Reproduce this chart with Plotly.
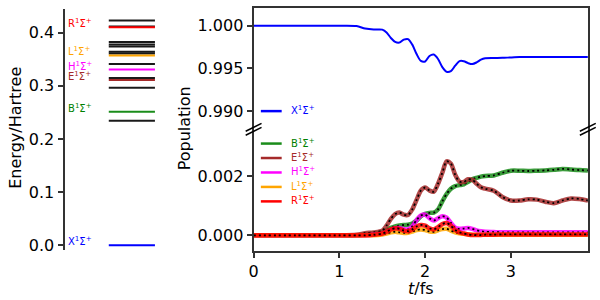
import plotly.graph_objects as go

# ---------------- data ----------------
t = [0.0, 0.5, 1.0, 1.2, 1.3, 1.4, 1.5, 1.55, 1.6, 1.65, 1.7, 1.75, 1.8, 1.85, 1.9, 1.95,
     2.0, 2.05, 2.1, 2.15, 2.2, 2.25, 2.3, 2.35, 2.4, 2.45, 2.5, 2.55, 2.6, 2.65, 2.7,
     2.8, 2.9, 3.0, 3.1, 3.2, 3.3, 3.4, 3.5, 3.6, 3.7, 3.8, 3.9]

pop_X = [1.0, 1.0, 0.99999, 0.99995, 0.99966, 0.99954, 0.99953, 0.99920, 0.99856, 0.99810,
         0.99802, 0.99836, 0.99843, 0.99778, 0.99668, 0.99587, 0.99581, 0.99645, 0.99662,
         0.99610, 0.99515, 0.99460, 0.99468, 0.99532, 0.99585, 0.99584, 0.99562, 0.99550,
         0.99570, 0.99602, 0.99618, 0.99621, 0.99623, 0.99628, 0.99632, 0.99633, 0.99634,
         0.99634, 0.99634, 0.99634, 0.99634, 0.99634, 0.99634]

pop_B = [0.0, 0.0, 0.0, 0.0, 0.00003, 0.00006, 0.00010, 0.00018, 0.00025, 0.00030, 0.00033,
         0.00035, 0.00036, 0.00040, 0.00050, 0.00065, 0.00073, 0.00076, 0.00077, 0.00088,
         0.00115, 0.00140, 0.00158, 0.00167, 0.00170, 0.00173, 0.00181, 0.00190, 0.00195,
         0.00199, 0.00201, 0.00203, 0.00212, 0.00219, 0.00219, 0.00218, 0.00219, 0.00220,
         0.00222, 0.00225, 0.00223, 0.00221, 0.00220]

pop_E = [0.0, 0.0, 0.0, 0.00002, 0.00007, 0.00010, 0.00016, 0.00033, 0.00056, 0.00072,
         0.00077, 0.00070, 0.00069, 0.00088, 0.00120, 0.00152, 0.00162, 0.00152, 0.00148,
         0.00175, 0.00212, 0.00251, 0.00243, 0.00205, 0.00182, 0.00181, 0.00190, 0.00188,
         0.00175, 0.00163, 0.00158, 0.00151, 0.00130, 0.00118, 0.00118, 0.00122, 0.00121,
         0.00114, 0.00109, 0.00118, 0.00125, 0.00123, 0.00118]

pop_H = [0.0, 0.0, 0.0, 0.0, 0.0, 0.00002, 0.00005, 0.00010, 0.00018, 0.00024, 0.00025,
         0.00021, 0.00020, 0.00030, 0.00052, 0.00067, 0.00070, 0.00058, 0.00050, 0.00058,
         0.00065, 0.00060, 0.00042, 0.00026, 0.00022, 0.00023, 0.00025, 0.00022, 0.00017,
         0.00014, 0.00012, 0.00011, 0.00010, 0.00010, 0.00010, 0.00010, 0.00010, 0.00010,
         0.00010, 0.00010, 0.00010, 0.00010, 0.00010]

pop_L = [0.0, 0.0, 0.0, 0.0, 0.0, 0.0, 0.00003, 0.00006, 0.00010, 0.00012, 0.00010,
         0.00008, 0.00009, 0.00013, 0.00018, 0.00020, 0.00018, 0.00013, 0.00012, 0.00017,
         0.00021, 0.00022, 0.00016, 0.00010, 0.00007, 0.00005, 0.00003, 0.00002, 0.00002,
         0.00002, 0.00002, 0.00002, 0.00002, 0.00002, 0.00002, 0.00002, 0.00002, 0.00002,
         0.00002, 0.00002, 0.00002, 0.00002, 0.00002]

pop_R = [0.0, 0.0, 0.0, 0.0, 0.0, 0.00002, 0.00006, 0.00012, 0.00020, 0.00024, 0.00022,
         0.00016, 0.00014, 0.00020, 0.00030, 0.00035, 0.00033, 0.00024, 0.00020, 0.00028,
         0.00038, 0.00042, 0.00032, 0.00018, 0.00010, 0.00006, 0.00003, 0.00001, 0.00001,
         0.00001, 0.00002, 0.00002, 0.00003, 0.00003, 0.00003, 0.00003, 0.00003, 0.00003,
         0.00003, 0.00003, 0.00003, 0.00003, 0.00003]

# energy levels (Hartree)
levels_other = [0.4233, 0.4117, 0.3826, 0.3778, 0.3741, 0.3641, 0.3611, 0.3413, 0.3148,
                0.2963, 0.2344]
state_names = ["X", "B", "E", "H", "L", "R"]
state_energy = [0.0, 0.2511, 0.3111, 0.3307, 0.3574, 0.4104]
state_color = ["#0000ff", "#1a8c1a", "#a52a2a", "#ff00ff", "#ffa500", "#ff0000"]
text_color = ["#0000ff", "#008000", "#a52a2a", "#ff00ff", "#ffa500", "#ff0000"]

lower_names = ["B", "E", "H", "L", "R"]
lower_pops = [pop_B, pop_E, pop_H, pop_L, pop_R]

x_ticks = [0, 1, 2, 3]

# ---------------- layout helpers ----------------
W, H = 600, 300
def fx(px):
    return px / W
def fy(py):
    return 1 - py / H

def lab(n):
    return n + "<sup>1</sup>Σ<sup>+</sup>"

FONT = "DejaVu Sans"
SP = "#333333"

fig = go.Figure()

# ---------------- left panel: energy levels ----------------
lx0, lx1 = 0.47, 0.96
for e in levels_other:
    fig.add_trace(go.Scatter(x=[lx0, lx1], y=[e, e], mode="lines",
                             line=dict(color="rgba(0,0,0,0.9)", width=2),
                             xaxis="x", yaxis="y", showlegend=False, hoverinfo="skip"))
for n, e, c in zip(state_names, state_energy, state_color):
    fig.add_trace(go.Scatter(x=[lx0, lx1], y=[e, e], mode="lines",
                             line=dict(color=c, width=2),
                             xaxis="x", yaxis="y", showlegend=False, hoverinfo="skip"))

annotations = []
for n, e, c in zip(state_names, state_energy, text_color):
    annotations.append(dict(x=fx(62), xref="paper", y=e, yref="y", text=lab(n),
                            showarrow=False, xanchor="left", yanchor="middle", yshift=4,
                            font=dict(family=FONT, size=10, color=c)))

# ---------------- top right: X population ----------------
fig.add_trace(go.Scatter(x=t, y=pop_X, mode="lines", line=dict(color="#0000ff", width=2,
                         shape="spline", smoothing=0.8),
                         xaxis="x2", yaxis="y2", showlegend=False))

# ---------------- bottom right: other populations ----------------
for n, p in zip(lower_names, lower_pops):
    c = state_color[state_names.index(n)]
    fig.add_trace(go.Scatter(x=t, y=p, mode="lines",
                             line=dict(color=c, width=4.5, shape="spline", smoothing=0.8),
                             opacity=0.85, xaxis="x3", yaxis="y3", showlegend=False))
    fig.add_trace(go.Scatter(x=t, y=p, mode="lines",
                             line=dict(color="black", width=1.8, dash="2px,3px",
                                       shape="spline", smoothing=0.8),
                             xaxis="x3", yaxis="y3", showlegend=False))

# ---------------- manual legends ----------------
shapes = []
def legend_entry(n, ypx):
    i = state_names.index(n)
    shapes.append(dict(type="line", xref="paper", yref="paper",
                       x0=fx(258), x1=fx(279), y0=fy(ypx), y1=fy(ypx),
                       line=dict(color=state_color[i], width=2.5)))
    annotations.append(dict(x=fx(286), xref="paper", y=fy(ypx), yref="paper",
                            text=lab(n), showarrow=False, xanchor="left", yanchor="middle",
                            yshift=1, font=dict(family=FONT, size=10, color=text_color[i])))

legend_entry("X", 113)
for k, n in enumerate(lower_names):
    legend_entry(n, 146 + 14.7 * k)

# ---------------- break marks ----------------
for xs in (250.7, 587.7):
    for yc in (129.5, 133.5):
        shapes.append(dict(type="line", xref="paper", yref="paper",
                           x0=fx(xs - 8), x1=fx(xs + 8), y0=fy(yc + 4), y1=fy(yc - 4),
                           line=dict(color="black", width=1.5)))

# ---------------- axis titles ----------------
annotations += [
    dict(x=fx(11), y=fy(130), xref="paper", yref="paper", text="Energy/Hartree",
         textangle=-90, showarrow=False, xanchor="center", yanchor="middle",
         font=dict(family=FONT, size=16, color="black")),
    dict(x=fx(181), y=fy(130), xref="paper", yref="paper", text="Population",
         textangle=-90, showarrow=False, xanchor="center", yanchor="middle",
         font=dict(family=FONT, size=16, color="black")),
    dict(x=fx(419), y=fy(293), xref="paper", yref="paper", text="<i>t</i>/fs",
         showarrow=False, xanchor="center", yanchor="middle",
         font=dict(family=FONT, size=16, color="black")),
]

axis_common = dict(showgrid=False, zeroline=False, showline=True, linecolor=SP, linewidth=2,
                   ticks="outside", ticklen=5, tickwidth=2, tickcolor=SP,
                   tickfont=dict(family=FONT, size=16, color="black"))

top_lo = 1.0 - (131 - 26) / 8660
top_hi = 1.0 + (26 - 8.3) / 8660
bot_lo = -(255 - 239.3) / 30000
bot_hi = (239.3 - 131.5) / 30000

fig.update_layout(
    width=W, height=H, margin=dict(l=0, r=0, t=0, b=0),
    paper_bgcolor="white", plot_bgcolor="white",
    xaxis=dict(domain=[fx(60), fx(155)], range=[0, 1], visible=False),
    yaxis=dict(domain=[fy(254), fy(8.7)], range=[-0.0087, 0.4456],
               tickvals=[0.0, 0.1, 0.2, 0.3, 0.4], tickformat=".1f", anchor="x",
               **axis_common),
    xaxis2=dict(domain=[fx(250.7), fx(587.7)], range=[0, 3.896], anchor="y2", side="top",
                showgrid=False, zeroline=False, showline=True, linecolor=SP, linewidth=2,
                ticks="", showticklabels=False),
    yaxis2=dict(domain=[fy(131.5), fy(8.3)], range=[top_lo, top_hi], anchor="x2",
                tickvals=[0.990, 0.995, 1.000], tickformat=".3f", mirror=True,
                **axis_common),
    xaxis3=dict(domain=[fx(250.7), fx(587.7)], range=[0, 3.896], anchor="y3",
                tickvals=x_ticks, **axis_common),
    yaxis3=dict(domain=[fy(255), fy(131.5)], range=[bot_lo, bot_hi], anchor="x3",
                tickvals=[0.0, 0.002], tickformat=".3f", mirror=True, **axis_common),
    shapes=shapes, annotations=annotations,
)

post = (
    "document.documentElement.style.overflow='hidden';"
    "document.body.style.margin='0';"
    "document.body.style.overflow='hidden';"
    "var gd=document.getElementsByClassName('plotly-graph-div')[0];"
    "gd.style.position='absolute';gd.style.left='0px';gd.style.top='0px';"
)

fig.write_html("out.html", config={"displayModeBar": False}, post_script=post)
